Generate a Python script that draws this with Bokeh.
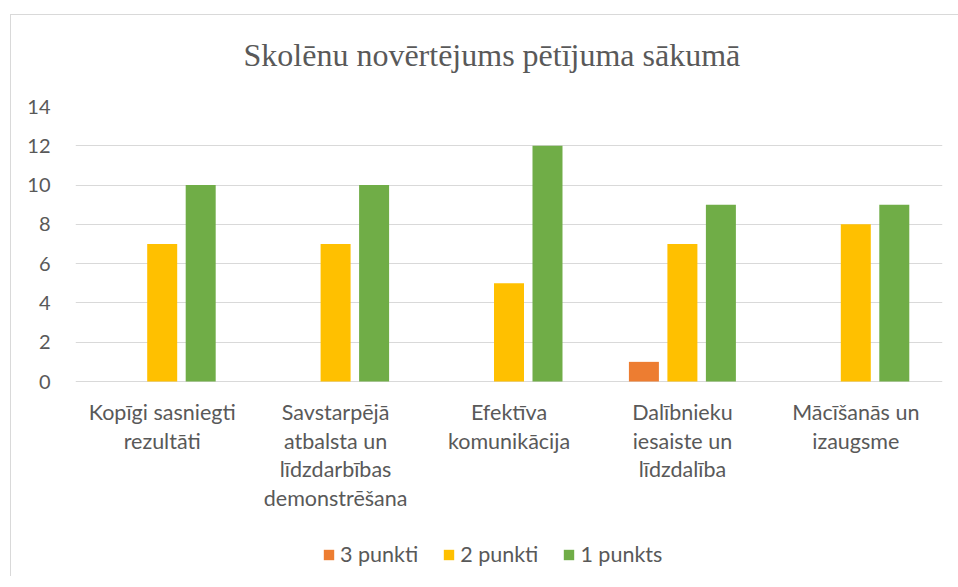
from bokeh.plotting import figure
from bokeh.models import ColumnDataSource, FixedTicker, Legend, LegendItem
from bokeh.core.properties import value
from bokeh.transform import dodge
from bokeh.embed import file_html
from bokeh.resources import INLINE

categories = ["Kopīgi sasniegti rezultāti",
              "Savstarpējā atbalsta un līdzdarbības demonstrēšana",
              "Efektīva komunikācija",
              "Dalībnieku iesaiste un līdzdalība",
              "Mācīšanās un izaugsme"]
category_labels = ["Kopīgi sasniegti\nrezultāti",
                   "Savstarpējā\natbalsta un\nlīdzdarbības\ndemonstrēšana",
                   "Efektīva\nkomunikācija",
                   "Dalībnieku\niesaiste un\nlīdzdalība",
                   "Mācīšanās un\nizaugsme"]
series_names = ["3 punkti", "2 punkti", "1 punkts"]
punkti_3 = [0, 0, 0, 1, 0]
punkti_2 = [7, 7, 5, 7, 8]
punkts_1 = [10, 10, 12, 9, 9]
y_ticks = [0, 2, 4, 6, 8, 10, 12, 14]
colors = ["#ED7D31", "#FFC000", "#70AD47"]

# layout: 14 units over 275 px; frame extends below zero to hold category labels and legend
y_max = 14
px_per_unit = 275 / y_max
frame_h = 470
y_min = y_max - frame_h / px_per_unit
label_y = -17.5 / px_per_unit

xs = list(range(len(categories)))
src = ColumnDataSource(dict(x=xs, s3=punkti_3, s2=punkti_2, s1=punkts_1,
                            label=category_labels, ly=[label_y] * len(xs)))

p = figure(frame_width=867, frame_height=frame_h, output_backend="svg", toolbar_location=None,
           x_range=(-0.5, len(categories) - 0.5), y_range=(y_min, y_max),
           x_axis_location=None,
           min_border_left=75, min_border_right=16, min_border_top=105, min_border_bottom=0,
           title="Skolēnu novērtējums pētījuma sākumā")
p.styles = {"background": "linear-gradient(#d9d9d9, #d9d9d9) 10px 14px / calc(100% - 10px) 1px no-repeat, "
                          "linear-gradient(#d9d9d9, #d9d9d9) 10px 14px / 1px calc(100% - 14px) no-repeat, #ffffff"}
p.outline_line_color = None
p.background_fill_color = "white"
p.border_fill_color = None

p.title.align = "left"
p.title.text_font = "Liberation Serif"
p.title.text_font_size = "32px"
p.title.text_font_style = "normal"
p.title.text_color = "#595959"
p.title.offset = 168
p.title.standoff = 68

width = 0.173
offs = [-0.222, 0.0, 0.222]
fields = ["s3", "s2", "s1"]
renderers = []
for f, o, c in zip(fields, offs, colors):
    r = p.vbar(x=dodge("x", o), top=f, width=width, source=src, fill_color=c, line_color=None)
    renderers.append(r)

# category labels under the zero line
p.text(x="x", y="ly", text="label", source=src, text_align="center", text_baseline="top",
       text_font=value("Lato"), text_font_size=value("21.5px"), text_color="#595959",
       text_line_height=1.1)

p.xgrid.grid_line_color = None
p.ygrid.ticker = FixedTicker(ticks=y_ticks)
p.ygrid.grid_line_color = "#d9d9d9"
p.ygrid.grid_line_width = 1
p.yaxis.ticker = FixedTicker(ticks=y_ticks)
p.yaxis.axis_line_color = None
p.yaxis.major_tick_line_color = None
p.yaxis.minor_tick_line_color = None
p.yaxis.major_label_standoff = 19
p.yaxis.major_label_text_font = "Lato"
p.yaxis.major_label_text_font_size = "20px"
p.yaxis.major_label_text_color = "#595959"

legend = Legend(items=[LegendItem(label=n, renderers=[r]) for n, r in zip(series_names, renderers)],
                orientation="horizontal", location=(247, 9))
legend.label_text_font = "Lato"
legend.label_text_font_size = "21.5px"
legend.label_text_color = "#595959"
legend.glyph_width = 13
legend.glyph_height = 13
legend.label_standoff = 5
legend.spacing = 24
legend.border_line_color = None
legend.background_fill_alpha = 0
legend.margin = 0
legend.padding = 0
p.add_layout(legend, "center")

open("out.html", "w").write(file_html(p, INLINE))
